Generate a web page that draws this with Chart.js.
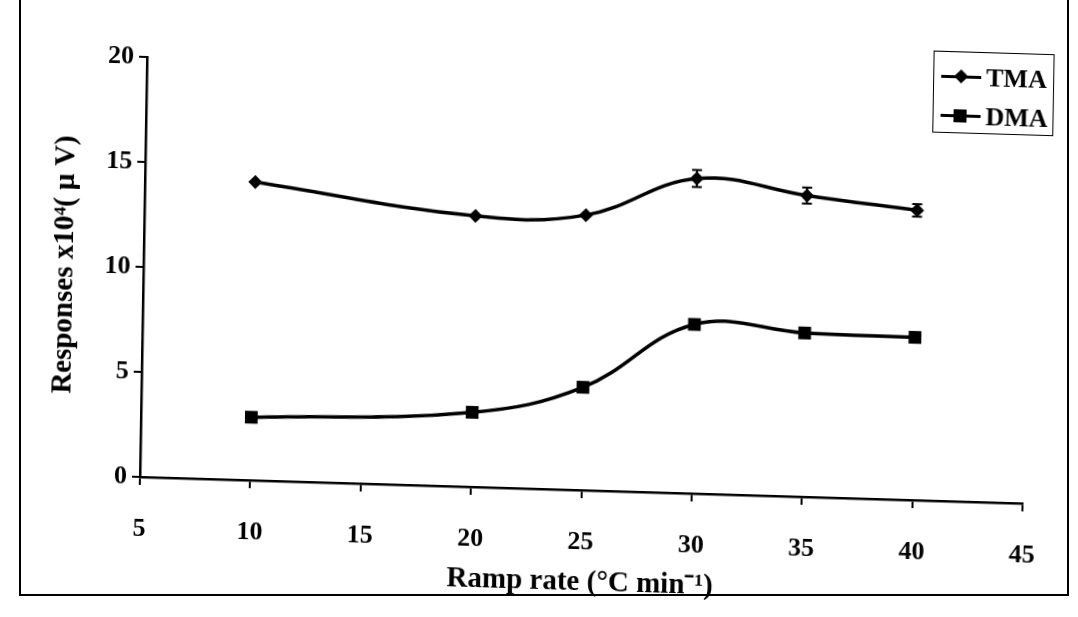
<!DOCTYPE html>
<html>
<head>
<meta charset="utf-8">
<script src="https://cdn.jsdelivr.net/npm/chart.js@4.4.1/dist/chart.umd.min.js"></script>
<style>
  html, body { margin: 0; padding: 0; background: #fff; }
  #page { position: relative; width: 1078px; height: 617px; overflow: hidden; background: #fff; }
  #frame { position: absolute; left: 19px; top: -4px; width: 1046px; height: 596px; border: 2px solid #000; }
  /* the scanned figure is slightly skewed, so the whole sheet is too */
  #sheet { position: absolute; left: 0; top: 0; width: 1078px; height: 617px;
           transform-origin: 140px 477px; transform: matrix(1, 0.03, -0.017, 1, 0, 0); }
  #legend { position: absolute; left: 926px; top: 27px; width: 121px; height: 82px;
            border: 1px solid #000; box-sizing: border-box; padding-top: 5px;
            font: bold 26px 'Liberation Serif', serif; color: #000; }
  .item { display: flex; align-items: center; height: 39px; }
  .sample { position: relative; width: 40px; height: 20px; margin: 0 5px 0 7px; }
  .sample .ln { position: absolute; left: 0; right: 0; top: 8px; height: 3px; background: #000; }
  .sample .mk { position: absolute; background: #000; }
  .sample .rectRot { width: 10px; height: 10px; left: 15px; top: 4px; transform: rotate(45deg); }
  .sample .rect { width: 13px; height: 13px; left: 13px; top: 3px; }
</style>
</head>
<body>
<div id="page">
  <div id="frame"></div>
  <div id="sheet">
    <canvas id="rampChart" width="1078" height="617"></canvas>
    <div id="legend"></div>
  </div>
</div>
<script>
// ramp rate (°C/min) and detector responses (x10^4 µV)
const rampRates = [10, 20, 25, 30, 35, 40];
const tmaResponse = [14.2, 12.9, 13.1, 15.0, 14.35, 13.8];
const tmaError = [0, 0, 0, 0.4, 0.38, 0.3];
const dmaResponse = [3.0, 3.55, 4.9, 8.05, 7.8, 7.75];
const seriesNames = ['TMA', 'DMA'];

const xTitle = 'Ramp rate (°C min⁻¹)';
const yTitle = 'Responses x10⁴( µ V)';

const tickFont = { family: "'Liberation Serif', serif", size: 26, weight: 'bold' };
const titleFont = { family: "'Liberation Serif', serif", size: 29, weight: 'bold' };

const toPoints = vals => rampRates.map((r, i) => ({ x: r, y: vals[i] }));

// simple vertical error bars for the TMA series
const errorBars = {
    id: 'errorBars',
    afterDatasetsDraw(chart) {
        const { ctx, scales: { x, y } } = chart;
        ctx.save();
        ctx.strokeStyle = '#000';
        ctx.lineWidth = 2;
        rampRates.forEach((r, i) => {
            const e = tmaError[i];
            if (!e) return;
            const px = x.getPixelForValue(r);
            const top = y.getPixelForValue(tmaResponse[i] + e);
            const bot = y.getPixelForValue(tmaResponse[i] - e);
            ctx.beginPath();
            ctx.moveTo(px, top); ctx.lineTo(px, bot);
            ctx.moveTo(px - 5, top); ctx.lineTo(px + 5, top);
            ctx.moveTo(px - 5, bot); ctx.lineTo(px + 5, bot);
            ctx.stroke();
        });
        ctx.restore();
    }
};

const chart = new Chart(document.getElementById('rampChart'), {
    type: 'line',
    data: {
        datasets: [
            {
                label: seriesNames[0],
                data: toPoints(tmaResponse),
                borderColor: '#000',
                backgroundColor: '#000',
                borderWidth: 3.5,
                tension: 0.4,
                pointStyle: 'rectRot',
                pointRadius: 7,
                pointBorderWidth: 0,
            },
            {
                label: seriesNames[1],
                data: toPoints(dmaResponse),
                borderColor: '#000',
                backgroundColor: '#000',
                borderWidth: 3.5,
                tension: 0.4,
                pointStyle: 'rect',
                pointRadius: 9,
                pointBorderWidth: 0,
            },
        ],
    },
    options: {
        responsive: false,
        animation: false,
        layout: { padding: { left: 40, top: 57, right: 55, bottom: 26 } },
        plugins: {
            legend: { display: false },
            tooltip: { enabled: false },
        },
        scales: {
            x: {
                type: 'linear',
                min: 5,
                max: 45,
                ticks: { stepSize: 5, color: '#000', font: tickFont, padding: 29, maxRotation: 0 },
                grid: { drawOnChartArea: false, drawTicks: true, tickLength: 8, color: '#000', lineWidth: 2 },
                border: { display: true, color: '#000', width: 2.5 },
                title: { display: true, text: xTitle, color: '#000', font: titleFont, padding: 4 },
                afterFit(scale) { scale.height = 114; },
            },
            y: {
                min: 0,
                max: 20,
                ticks: { stepSize: 5, color: '#000', font: tickFont, padding: 5 },
                grid: { drawOnChartArea: false, drawTicks: true, tickLength: 8, color: '#000', lineWidth: 2 },
                border: { display: true, color: '#000', width: 2.5 },
                title: { display: true, text: yTitle, color: '#000', font: titleFont, padding: 4 },
                afterFit(scale) { scale.width = 100; },
            },
        },
    },
    plugins: [errorBars],
});

// legend box built from the datasets
const legend = document.getElementById('legend');
chart.data.datasets.forEach(ds => {
    const item = document.createElement('div');
    item.className = 'item';
    item.innerHTML = '<span class="sample"><span class="ln"></span><span class="mk ' + ds.pointStyle + '"></span></span>';
    item.appendChild(document.createTextNode(ds.label));
    legend.appendChild(item);
});
</script>
</body>
</html>
